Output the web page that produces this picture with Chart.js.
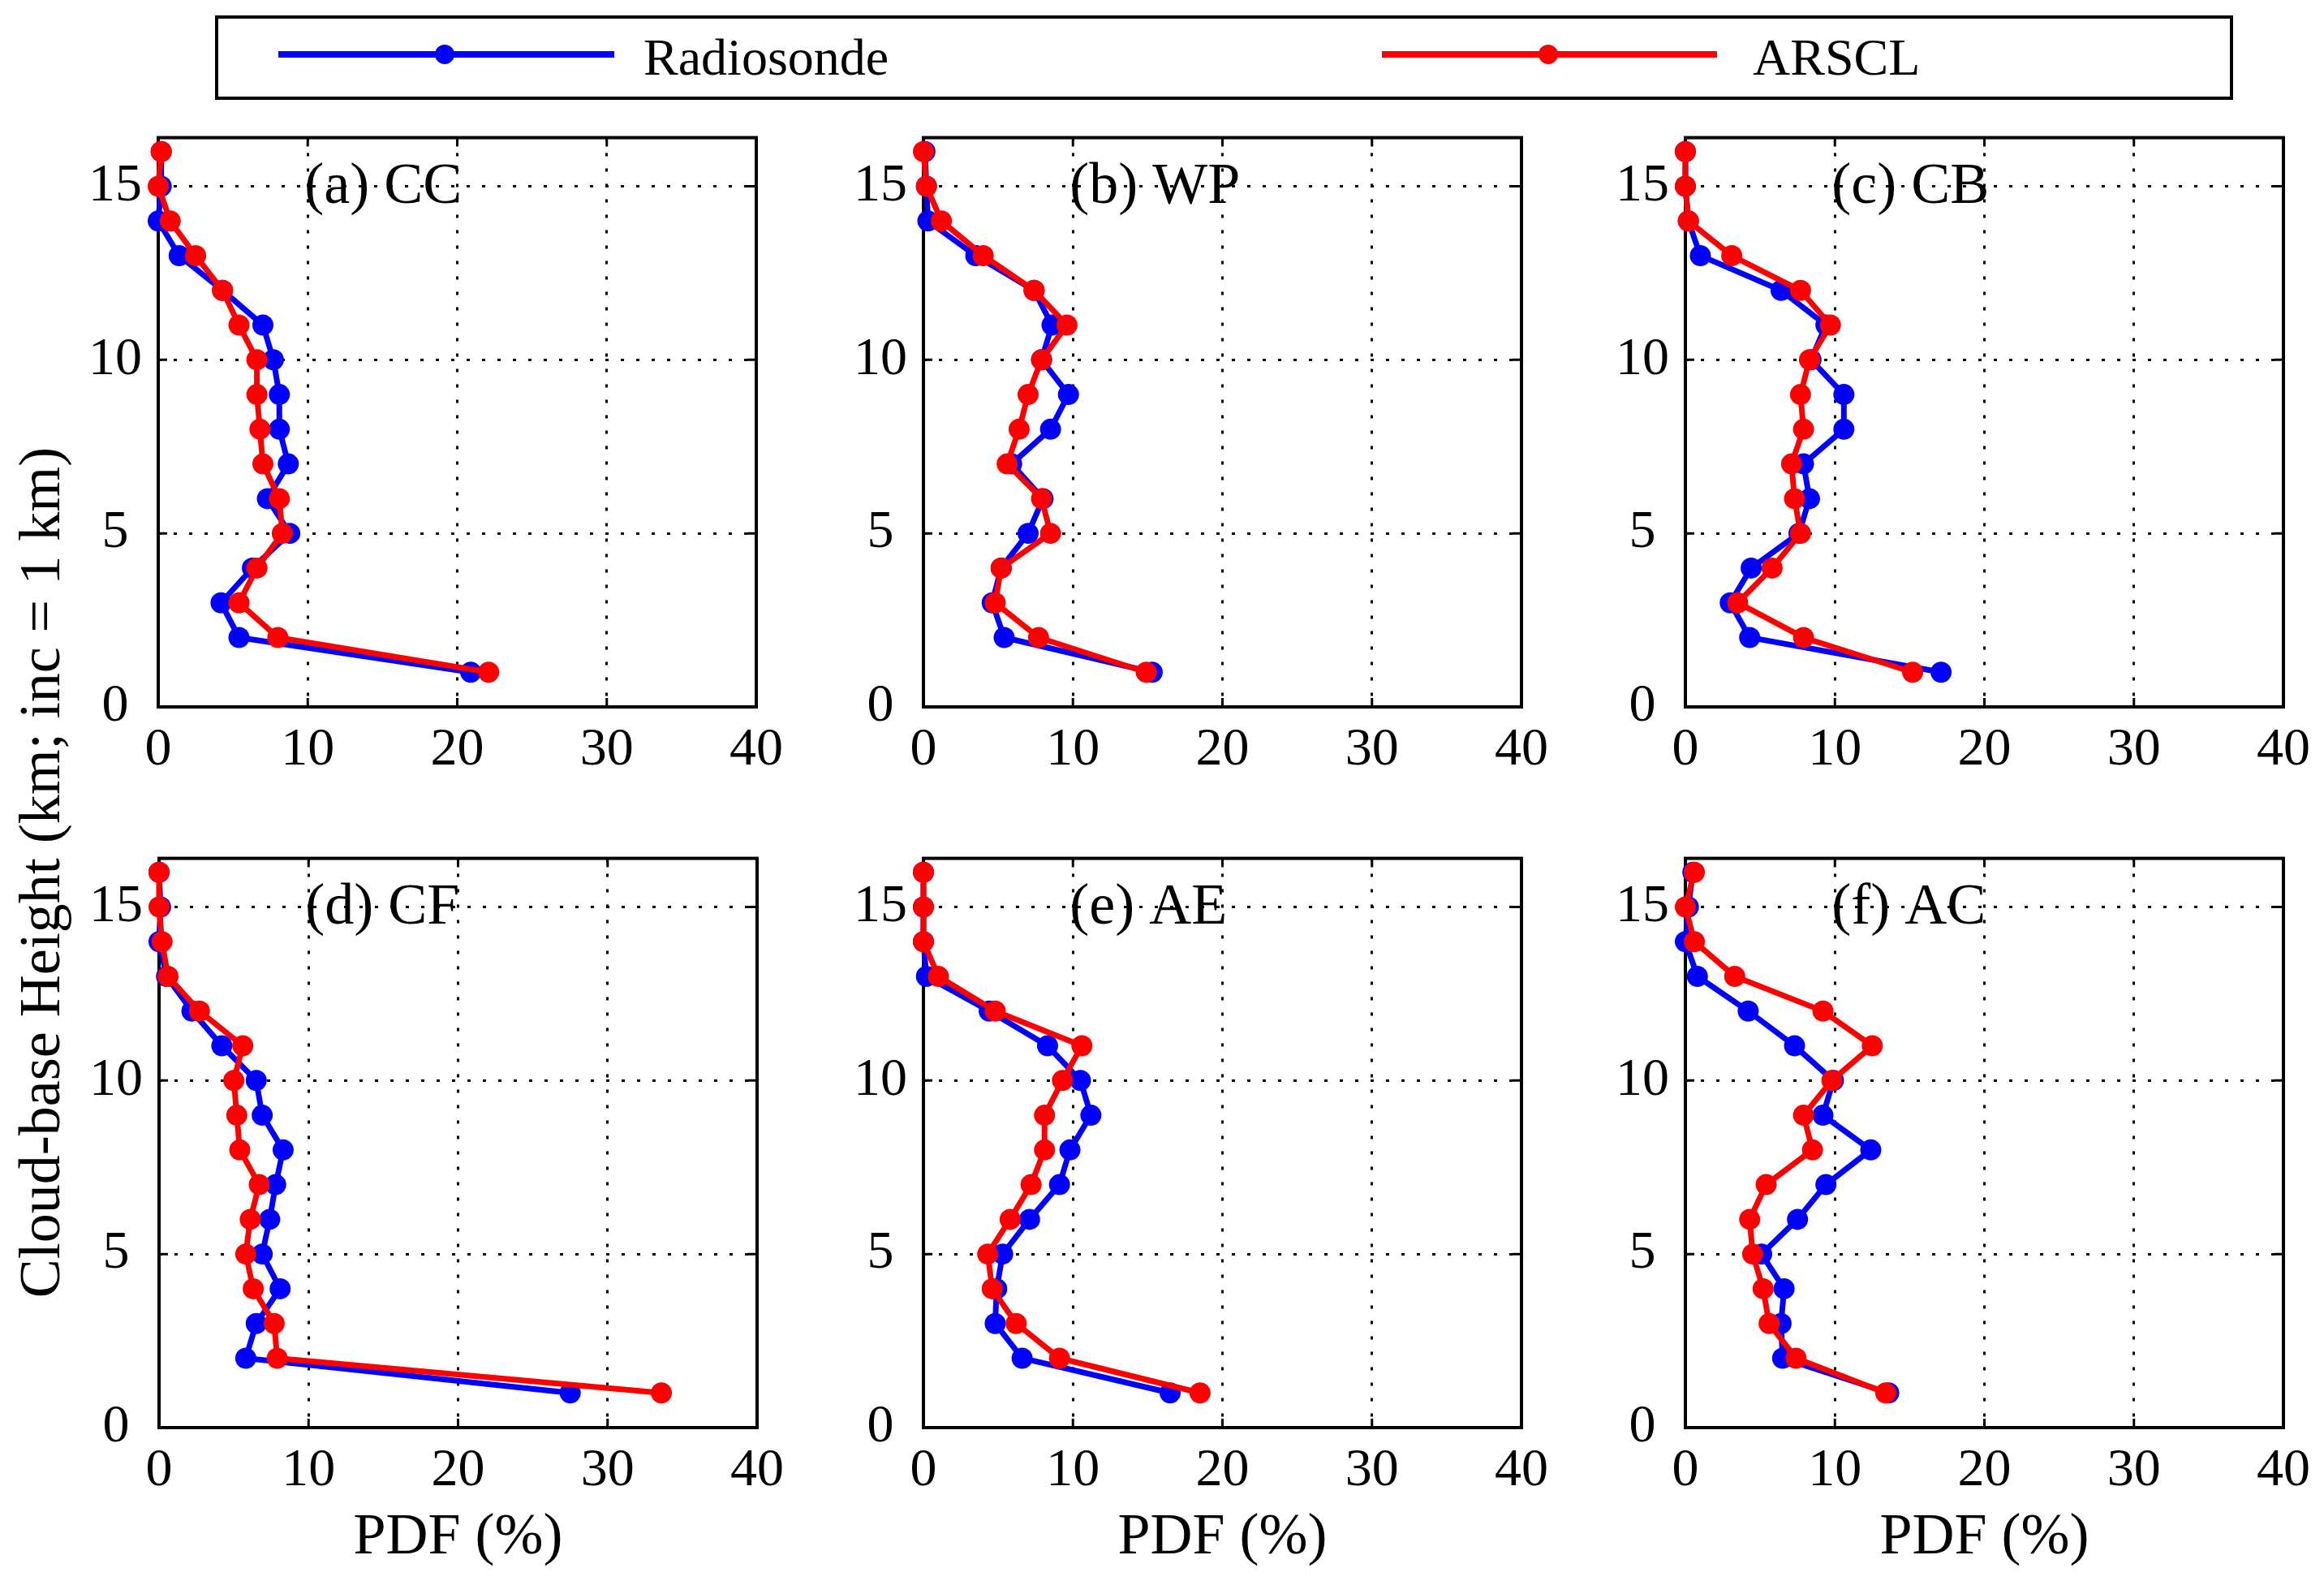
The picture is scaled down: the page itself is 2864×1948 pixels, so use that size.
<!DOCTYPE html>
<html>
<head>
<meta charset="utf-8">
<script src="https://cdn.jsdelivr.net/npm/chart.js@4"></script>
<style>
  body { margin: 0; width: 2864px; height: 1948px; background: #fff; position: relative; overflow: hidden;
         font-family: "Liberation Serif", "DejaVu Serif", "Times New Roman", serif; }
  canvas { position: absolute; }
  .legend-box { position: absolute; left: 265px; top: 19px; width: 2487px; height: 104px;
                border: 4px solid #000; box-sizing: border-box; }
  .leg-line { position: absolute; height: 8px; }
  .leg-dot { position: absolute; width: 24px; height: 24px; border-radius: 50%; }
  .leg-text { position: absolute; font-size: 64px; line-height: 64px; white-space: nowrap; }
  .ytitle { position: absolute; left: 49px; top: 1075px; font-size: 72px; line-height: 72px; white-space: nowrap;
            transform: translate(-50%, -50%) rotate(-90deg); }
</style>
</head>
<body>
<div class="legend-box"></div>
<div class="leg-line" style="left:343px;top:63px;width:414px;background:#0000ff"></div>
<div class="leg-dot" style="left:536px;top:55px;background:#0000ff"></div>
<div class="leg-text" style="left:793px;top:39px">Radiosonde</div>
<div class="leg-line" style="left:1703px;top:63px;width:413px;background:#ff0000"></div>
<div class="leg-dot" style="left:1896px;top:55px;background:#ff0000"></div>
<div class="leg-text" style="left:2160px;top:39px">ARSCL</div>
<div class="ytitle">Cloud-base Height (km; inc = 1 km)</div>

<canvas id="pa"></canvas>
<canvas id="pb"></canvas>
<canvas id="pc"></canvas>
<canvas id="pd"></canvas>
<canvas id="pe"></canvas>
<canvas id="pf"></canvas>

<script>
// cloud-base heights (km), one value per 1 km bin
const heights = [1, 2, 3, 4, 5, 6, 7, 8, 9, 10, 11, 12, 13, 14, 15, 16];
const xTicks = [0, 10, 20, 30, 40];
const yTicks = [0, 5, 10, 15];
const panelLabels = ['(a) CC', '(b) WP', '(c) CB', '(d) CF', '(e) AE', '(f) AC'];
const seriesNames = ['Radiosonde', 'ARSCL'];

// PDF (%) per height bin
const ccRadiosonde = [20.9, 5.4, 4.2, 6.3, 8.8, 7.3, 8.7, 8.1, 8.1, 7.7, 7.0, 4.3, 1.4, 0.0, 0.2, 0.2];
const ccArscl      = [22.1, 8.0, 5.4, 6.6, 8.3, 8.1, 7.0, 6.8, 6.6, 6.6, 5.4, 4.3, 2.5, 0.8, 0.0, 0.2];
const wpRadiosonde = [15.3, 5.4, 4.6, 5.2, 7.0, 8.0, 5.9, 8.5, 9.7, 7.9, 8.6, 7.4, 3.5, 0.3, 0.2, 0.1];
const wpArscl      = [14.9, 7.7, 4.8, 5.2, 8.5, 7.9, 5.6, 6.4, 7.0, 7.9, 9.6, 7.4, 4.0, 1.2, 0.2, 0.0];
const cbRadiosonde = [17.1, 4.3, 3.0, 4.4, 7.6, 8.3, 7.9, 10.6, 10.6, 8.4, 9.4, 6.4, 1.0, 0.2, 0.0, 0.0];
const cbArscl      = [15.2, 7.9, 3.5, 5.8, 7.7, 7.3, 7.1, 7.9, 7.7, 8.3, 9.7, 7.7, 3.1, 0.2, 0.0, 0.0];
const cfRadiosonde = [27.5, 5.8, 6.5, 8.1, 6.9, 7.4, 7.8, 8.3, 6.9, 6.5, 4.2, 2.2, 0.5, 0.0, 0.1, 0.0];
const cfArscl      = [33.6, 7.9, 7.7, 6.3, 5.8, 6.1, 6.7, 5.4, 5.2, 5.0, 5.6, 2.7, 0.6, 0.2, 0.0, 0.0];
const aeRadiosonde = [16.5, 6.6, 4.8, 4.9, 5.3, 7.1, 9.1, 9.8, 11.2, 10.5, 8.3, 4.4, 0.2, 0.0, 0.0, 0.0];
const aeArscl      = [18.5, 9.1, 6.2, 4.6, 4.3, 5.8, 7.2, 8.1, 8.1, 9.3, 10.6, 4.8, 1.0, 0.0, 0.0, 0.0];
const acRadiosonde = [13.6, 6.5, 6.4, 6.6, 5.1, 7.5, 9.4, 12.4, 9.2, 9.9, 7.3, 4.2, 0.8, 0.0, 0.2, 0.5];
const acArscl      = [13.4, 7.4, 5.6, 5.2, 4.5, 4.3, 5.4, 8.5, 7.9, 9.8, 12.5, 9.2, 3.3, 0.6, 0.0, 0.6];

const serifStack = '"Liberation Serif", "DejaVu Serif", "Times New Roman", serif';
Chart.defaults.font.family = serifStack;
Chart.defaults.color = '#000';

// plot box sizes in page pixels
const plotW = 744, plotH = 711;
const yAxisW = 120, padTop = 50, padRight = 40;

const panels = [
  { id: 'pa', label: panelLabels[0], radio: ccRadiosonde, arscl: ccArscl, left: 195,  top: 160,  bottomRow: false },
  { id: 'pb', label: panelLabels[1], radio: wpRadiosonde, arscl: wpArscl, left: 1138, top: 160,  bottomRow: false },
  { id: 'pc', label: panelLabels[2], radio: cbRadiosonde, arscl: cbArscl, left: 2077, top: 160,  bottomRow: false },
  { id: 'pd', label: panelLabels[3], radio: cfRadiosonde, arscl: cfArscl, left: 196,  top: 1048, bottomRow: true },
  { id: 'pe', label: panelLabels[4], radio: aeRadiosonde, arscl: aeArscl, left: 1138, top: 1048, bottomRow: true },
  { id: 'pf', label: panelLabels[5], radio: acRadiosonde, arscl: acArscl, left: 2077, top: 1048, bottomRow: true }
];

// axes box + inward ticks (matlab style), drawn under the data
const boxPlugin = {
  id: 'box',
  beforeDatasetsDraw(chart) {
    const { ctx, chartArea: a, scales } = chart;
    ctx.save();
    ctx.strokeStyle = '#000';
    ctx.lineWidth = 3;
    ctx.beginPath();
    xTicks.forEach(v => {
      const px = scales.x.getPixelForValue(v);
      ctx.moveTo(px, a.bottom); ctx.lineTo(px, a.bottom - 11);
      ctx.moveTo(px, a.top); ctx.lineTo(px, a.top + 11);
    });
    yTicks.forEach(v => {
      const py = scales.y.getPixelForValue(v);
      ctx.moveTo(a.left, py); ctx.lineTo(a.left + 11, py);
      ctx.moveTo(a.right, py); ctx.lineTo(a.right - 11, py);
    });
    ctx.stroke();
    ctx.lineWidth = 4;
    ctx.strokeRect(a.left, a.top, a.right - a.left, a.bottom - a.top);
    ctx.restore();
  }
};

// "(a) CC" style label sitting on the 15 km grid line
const panelLabelPlugin = {
  id: 'panelLabel',
  beforeDatasetsDraw(chart, args, opts) {
    const { ctx, scales } = chart;
    ctx.save();
    ctx.font = '72px ' + serifStack;
    ctx.fillStyle = '#000';
    ctx.textBaseline = 'middle';
    ctx.textAlign = 'left';
    ctx.fillText(opts.text, scales.x.getPixelForValue(10) - 4, scales.y.getPixelForValue(15) + 2);
    ctx.restore();
  }
};

function makePanel(p) {
  const xAxisH = p.bottomRow ? 183 : 90;
  const cv = document.getElementById(p.id);
  const W = yAxisW + plotW + padRight;
  const H = padTop + plotH + xAxisH;
  cv.width = W; cv.height = H;
  cv.style.left = (p.left - yAxisW) + 'px';
  cv.style.top = (p.top - padTop) + 'px';

  const toPts = vals => heights.map((h, i) => ({ x: vals[i], y: h }));

  new Chart(cv, {
    type: 'scatter',
    data: {
      datasets: [
        {
          label: seriesNames[0], data: toPts(p.radio), order: 1,
          showLine: true, borderColor: '#0000ff', backgroundColor: '#0000ff',
          borderWidth: 7, pointRadius: 13, pointBorderWidth: 0, clip: false
        },
        {
          label: seriesNames[1], data: toPts(p.arscl), order: 0,
          showLine: true, borderColor: '#ff0000', backgroundColor: '#ff0000',
          borderWidth: 7, pointRadius: 13, pointBorderWidth: 0, clip: false
        }
      ]
    },
    options: {
      responsive: false,
      animation: false,
      devicePixelRatio: 1,
      layout: { padding: { top: padTop, right: padRight, left: 0, bottom: 0 } },
      plugins: {
        legend: { display: false },
        tooltip: { enabled: false },
        panelLabel: { text: p.label }
      },
      scales: {
        x: {
          type: 'linear', min: 0, max: 40,
          afterBuildTicks: s => { s.ticks = xTicks.map(v => ({ value: v })); },
          afterFit: s => { s.height = xAxisH; },
          ticks: { font: { size: 66 }, padding: 14, maxRotation: 0 },
          grid: { color: '#000', lineWidth: 3, drawTicks: false },
          border: { display: false, dash: [4, 15] },
          title: {
            display: p.bottomRow, text: 'PDF (%)',
            font: { size: 72 }, padding: { top: 0, bottom: 4 }
          }
        },
        y: {
          type: 'linear', min: 0, max: 16.4,
          afterBuildTicks: s => { s.ticks = yTicks.map(v => ({ value: v })); },
          afterFit: s => { s.width = yAxisW; },
          ticks: { font: { size: 66 }, padding: 20, crossAlign: 'center' },
          grid: { color: '#000', lineWidth: 3, drawTicks: false },
          border: { display: false, dash: [4, 15] }
        }
      }
    },
    plugins: [boxPlugin, panelLabelPlugin]
  });
}

panels.forEach(makePanel);
</script>
</body>
</html>
